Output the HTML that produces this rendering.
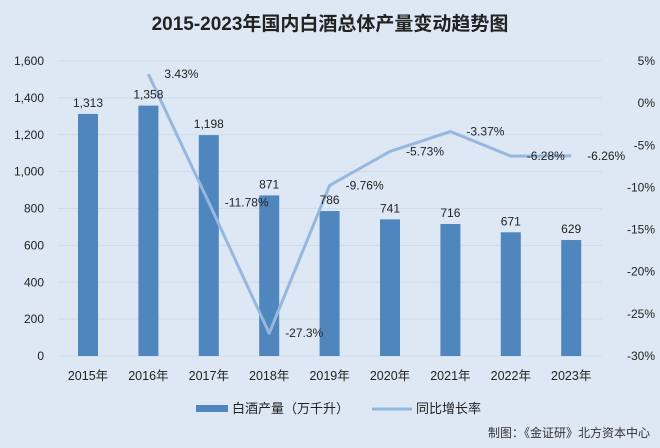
<!DOCTYPE html>
<html><head><meta charset="utf-8"><style>
body{margin:0;background:#dde8f4;}
svg{display:block;font-family:"Liberation Sans","Noto Sans CJK SC",sans-serif;}
</style></head><body>
<svg id="c" width="660" height="448" viewBox="0 0 660 448">
<rect width="660" height="448" fill="#dde8f4"/>
<text x="330" y="30" text-anchor="middle" font-size="19" font-weight="bold" fill="#222">2015-2023年国内白酒总体产量变动趋势图</text>
<g id="grid"></g><g id="bars"></g><g id="line"></g><g id="labels"></g>
<g>
<rect x="196" y="405" width="32" height="7" fill="#4f86bd"/>
<text x="232" y="413" font-size="13" fill="#222">白酒产量（万千升）</text>
<line x1="372" y1="409" x2="412" y2="409" stroke="#95b8e0" stroke-width="3"/>
<text x="416" y="413" font-size="13" fill="#222">同比增长率</text>
</g>
<text x="650" y="437" text-anchor="end" font-size="12" fill="#333">制图：《金证研》北方资本中心</text>
</svg>
<script>
const categories=["2015年","2016年","2017年","2018年","2019年","2020年","2021年","2022年","2023年"];
const production=[1313,1358,1198,871,786,741,716,671,629];
const growth=[null,3.43,-11.78,-27.3,-9.76,-5.73,-3.37,-6.28,-6.26];
const growthLabels=["","3.43%","-11.78%","-27.3%","-9.76%","-5.73%","-3.37%","-6.28%","-6.26%"];
const leftTicks=[0,200,400,600,800,1000,1200,1400,1600];
const rightTicks=[5,0,-5,-10,-15,-20,-25,-30];
const NS="http://www.w3.org/2000/svg";
const plotTop=61,plotBot=356,x0=88,step=60.4;
const yL=v=>plotBot-(v/1600)*(plotBot-plotTop);
const yR=v=>plotTop+(5-v)/35*(plotBot-plotTop);
const xC=i=>x0+i*step;
function mk(t,a,p){const e=document.createElementNS(NS,t);for(const k in a)e.setAttribute(k,a[k]);p.appendChild(e);return e;}
const grid=document.getElementById('grid');
leftTicks.forEach(v=>{
 const g=mk('line',{x1:58,x2:602,y1:yL(v),y2:yL(v),stroke:'#cfdbe8','stroke-width':1},grid);
 
 
 const t=mk('text',{x:44,y:yL(v)+4,'text-anchor':'end','font-size':12,fill:'#222'},grid);t.textContent=v.toLocaleString('en-US');
 
 
});
rightTicks.forEach(v=>{
 const t=mk('text',{x:655,y:yR(v)+4,'text-anchor':'end','font-size':12,fill:'#222'},grid);t.textContent=v+'%';
 
 
});
const bars=document.getElementById('bars'),labels=document.getElementById('labels');
categories.forEach((c,i)=>{
 const v=production[i];
 const r=mk('rect',{x:xC(i)-10,y:yL(v),width:20,height:plotBot-yL(v),fill:'#4f86bd'},bars);
 
 
 const t=mk('text',{x:xC(i),y:yL(v)-7,'text-anchor':'middle','font-size':12,fill:'#222'},labels);t.textContent=v.toLocaleString('en-US');
 
 
 const xl=mk('text',{x:xC(i),y:380,'text-anchor':'middle','font-size':12.5,fill:'#222'},labels);xl.textContent=c;
 
 
});
let d='';growth.forEach((g,i)=>{if(g===null)return;d+=(d?'L':'M')+xC(i)+','+yR(g);});
const p=mk('path',{d:d,fill:'none',stroke:'#95b8e0','stroke-width':3,'stroke-linejoin':'round'},document.getElementById('line'));


growth.forEach((g,i)=>{if(g===null)return;
 const t=mk('text',{x:xC(i)+16,y:yR(g)+4,'font-size':12,fill:'#222'},labels);t.textContent=growthLabels[i];
 
 
});
</script>
</body></html>
